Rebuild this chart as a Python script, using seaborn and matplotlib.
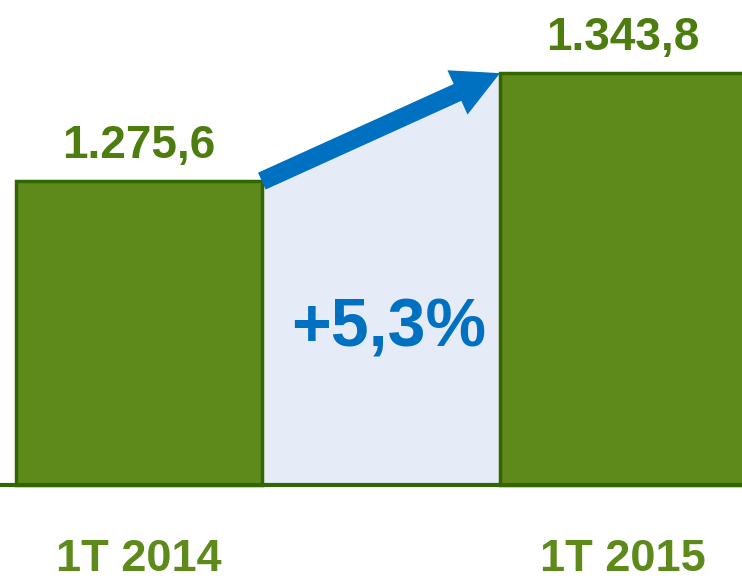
import matplotlib
matplotlib.use("Agg")
import matplotlib.pyplot as plt
import seaborn as sns

# data
periods = ["1T 2014", "1T 2015"]
values = [1275.6, 1343.8]

sns.set_style("white")
plt.rcParams['font.family'] = ['Liberation Sans', 'DejaVu Sans']

bar_green = '#5e8a1c'
edge_green = '#336600'
text_green = '#4d7c0f'
blue = '#0070c0'

def fmt(v):
    # 1275.6 -> 1.275,6
    return f"{v:,.1f}".replace(",", "X").replace(".", ",").replace("X", ".")

base = 1083.7
w = 0.508

fig = plt.figure(figsize=(7.42, 5.81), dpi=100)
ax = fig.add_axes([0, 0, 1, 1])

sns.barplot(x=periods, y=values, color=bar_green, saturation=1, width=w,
            edgecolor=edge_green, linewidth=2.5, ax=ax, zorder=2)

# bars start at the baseline, not at zero
for p in ax.patches:
    top = p.get_y() + p.get_height()
    p.set_y(base)
    p.set_height(top - base)

# shaded area between the bars
ax.fill_between([w / 2, 1 - w / 2], [values[0], values[1]], base,
                color='#e6ecf7', lw=0, zorder=1)

# growth arrow
ax.annotate("", xy=(1 - w / 2, values[1]), xytext=(w / 2, values[0]),
            arrowprops=dict(arrowstyle="simple,head_length=2.4,head_width=2.5,tail_width=0.95",
                            mutation_scale=14, color=blue, lw=0,
                            shrinkA=0, shrinkB=0), zorder=3)

ax.axhline(base, color=edge_green, lw=3, zorder=4)

# value labels
for i, v in enumerate(values):
    ax.annotate(fmt(v), xy=(i, v), xytext=(0, 16.5), textcoords='offset points',
                ha='center', va='baseline', fontsize=33, fontweight='bold',
                color=text_green)

pct = (values[1] / values[0] - 1) * 100
ax.text(0.515, 0.403, "+" + f"{pct:.1f}".replace(".", ",") + "%",
        transform=ax.get_xaxis_transform(), ha='center', va='baseline',
        fontsize=49, fontweight='bold', color=blue, zorder=5)

# category labels under the baseline
for i, lab in enumerate(periods):
    ax.text(i, 0.018, lab, transform=ax.get_xaxis_transform(), ha='center',
            va='baseline', fontsize=32.5, fontweight='bold', color=bar_green)

ax.set_xlim(-0.287, 1.246)
ax.set_ylim(1023, 1390)
ax.set_xticks([])
ax.set_yticks([])
ax.set_xlabel("")
ax.set_ylabel("")
sns.despine(ax=ax, left=True, bottom=True)

fig.savefig("out.png", dpi=100)
